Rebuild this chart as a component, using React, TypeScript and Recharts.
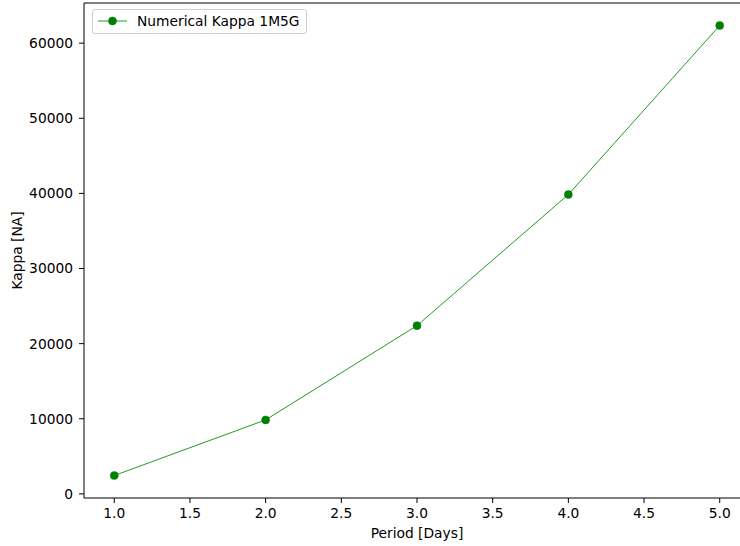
import { LineChart, Line, XAxis, YAxis, ReferenceLine } from 'recharts'

const periods = [1, 2, 3, 4, 5]
const kappa = [2450, 9850, 22400, 39850, 62350]
const xTicks = [1.0, 1.5, 2.0, 2.5, 3.0, 3.5, 4.0, 4.5, 5.0]
const yTicks = [0, 10000, 20000, 30000, 40000, 50000, 60000]
const seriesName = 'Numerical Kappa 1M5G'
const xLabel = 'Period [Days]'
const yLabel = 'Kappa [NA]'

// matplotlib-style 5% margins around the data
const xDomain: [number, number] = [0.8, 5.2]
const yDomain: [number, number] = [-545, 65345]

const FONT = "'DejaVu Sans', sans-serif"
const FS = 13.8
const LINE_COLOR = '#239b23'
const MARKER_COLOR = '#008000'

const data = periods.map((p, i) => ({ period: p, kappa: kappa[i] }))

function XLabel(props: any) {
  const vb = props.viewBox
  return (
    <text x={vb.x + vb.width / 2} y={vb.y + vb.height - 8} textAnchor="middle" fill="#000" fontSize={FS} fontFamily={FONT}>
      {xLabel}
    </text>
  )
}

function YLabel(props: any) {
  const vb = props.viewBox
  const x = 21.5
  const y = vb.y + vb.height / 2
  return (
    <text x={x} y={y} transform={`rotate(-90, ${x}, ${y})`} textAnchor="middle" fill="#000" fontSize={FS} fontFamily={FONT}>
      {yLabel}
    </text>
  )
}

export default function App() {
  return (
    <div style={{ position: 'fixed', left: 0, top: 0, width: 740, height: 546, overflow: 'hidden', background: '#fff' }}>
      <LineChart width={752} height={546} data={data} margin={{ top: 3, right: 2, bottom: 0, left: 0 }}>
        <XAxis
          dataKey="period"
          type="number"
          domain={xDomain}
          ticks={xTicks}
          allowDataOverflow
          tickFormatter={(v: number) => v.toFixed(1)}
          height={48}
          tickSize={5}
          tickMargin={5}
          stroke="#000"
          tick={{ fill: '#000', fontSize: FS, fontFamily: FONT }}
          label={{ content: XLabel }}
        />
        <YAxis
          type="number"
          domain={yDomain}
          ticks={yTicks}
          allowDataOverflow
          width={84}
          tickSize={5}
          tickMargin={6}
          stroke="#000"
          tick={{ fill: '#000', fontSize: FS, fontFamily: FONT }}
          label={{ content: YLabel }}
        />
        <ReferenceLine y={yDomain[1]} stroke="#000" ifOverflow="visible" />
        <ReferenceLine x={xDomain[1]} stroke="#000" ifOverflow="visible" />
        <Line
          dataKey="kappa"
          name={seriesName}
          stroke={LINE_COLOR}
          strokeWidth={1}
          dot={{ r: 4, fill: MARKER_COLOR, stroke: MARKER_COLOR, strokeWidth: 0.5 }}
          activeDot={false}
          isAnimationActive={false}
        />
      </LineChart>
      <div
        style={{
          position: 'absolute',
          left: 91.5,
          top: 9,
          width: 215,
          height: 25,
          boxSizing: 'border-box',
          border: '1px solid #d0d0d0',
          borderRadius: 3,
          background: 'rgba(255,255,255,0.8)',
          fontFamily: FONT,
          fontSize: FS,
        }}
      >
        <svg width={30} height={23} style={{ position: 'absolute', left: 5, top: 0 }}>
          <line x1={0} y1={11} x2={29} y2={11} stroke={LINE_COLOR} strokeWidth={1} />
          <circle cx={14.5} cy={11} r={4} fill={MARKER_COLOR} stroke={MARKER_COLOR} strokeWidth={0.5} />
        </svg>
        <span style={{ position: 'absolute', left: 44.5, top: 0, lineHeight: '22px', color: '#000', whiteSpace: 'nowrap' }}>
          {seriesName}
        </span>
      </div>
    </div>
  )
}
